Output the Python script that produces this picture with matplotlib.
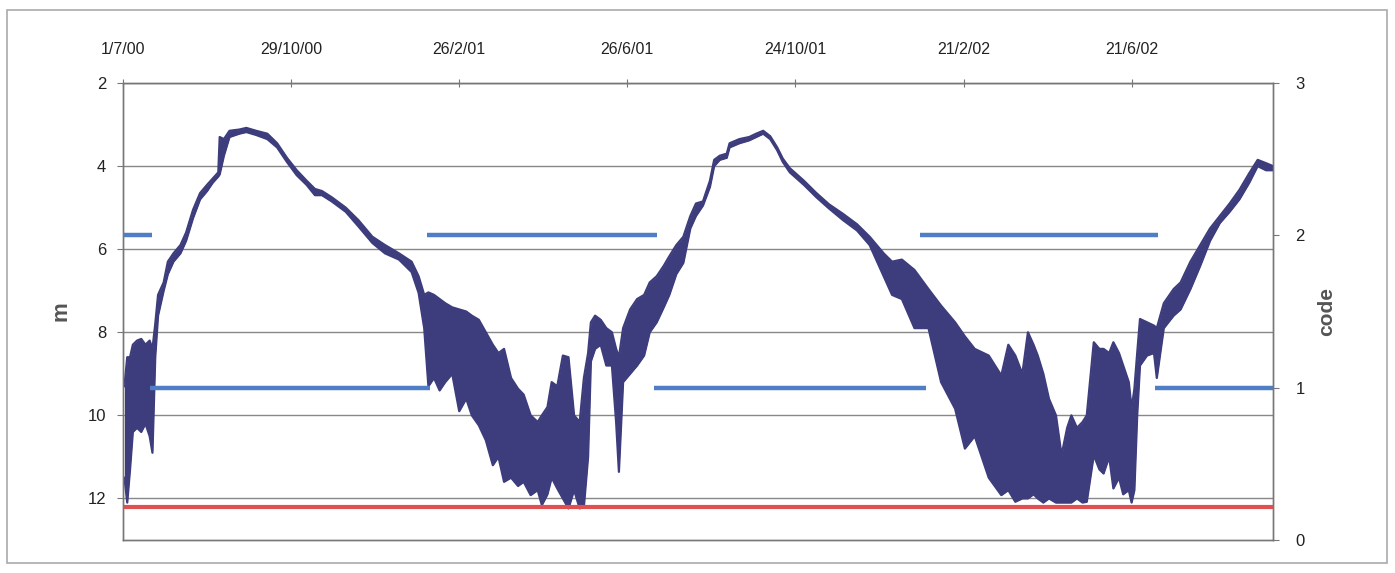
import matplotlib
matplotlib.use("Agg")
import matplotlib.pyplot as plt
from matplotlib.patches import Rectangle
import pandas as pd

plt.rcParams['font.family'] = ['Liberation Sans', 'DejaVu Sans']

# Water level (m below ground): day offset from 1/7/00,
# shallowest and deepest reading in each short period
start = pd.Timestamp('2000-07-01')
days = [1, 3, 5, 7, 10, 13, 16, 19, 21, 23, 25, 29, 32, 36, 41, 45, 50, 55, 60, 64,
        68, 69, 72, 76, 83, 88, 95, 103, 110, 117, 124, 131, 137, 142, 149, 159, 168, 178, 187, 197,
        206, 211, 215, 218, 222, 226, 230, 235, 240, 245, 249, 254, 259, 264, 268, 272, 277, 282, 286, 291,
        296, 299, 303, 306, 310, 314, 318, 322, 326, 329, 332, 334, 337, 341, 345, 349, 352, 354, 357, 362,
        367, 372, 376, 381, 386, 390, 395, 400, 405, 409, 414, 419, 422, 426, 431, 433, 440, 447, 452, 457,
        462, 467, 471, 476, 486, 495, 504, 514, 524, 533, 543, 549, 556, 565, 575, 584, 594, 601, 608, 618,
        627, 632, 637, 642, 646, 650, 653, 657, 661, 666, 670, 674, 677, 681, 685, 688, 693, 697, 700, 704,
        707, 711, 714, 718, 720, 722, 724, 726, 731, 736, 738, 743, 750, 755, 762, 769, 776, 783, 790, 797,
        804, 810, 816, 821]
level_top = [9.3, 8.6, 8.6, 8.3, 8.2, 8.16, 8.3, 8.2, 8.4, 7.8, 7.1, 6.8, 6.3, 6.1, 5.9, 5.6, 5.05, 4.65, 4.45, 4.3,
             4.15, 3.3, 3.35, 3.15, 3.12, 3.08, 3.15, 3.22, 3.45, 3.8, 4.1, 4.35, 4.55, 4.6, 4.75, 5.0, 5.3, 5.7, 5.9, 6.1,
             6.3, 6.65, 7.1, 7.04, 7.1, 7.2, 7.3, 7.4, 7.45, 7.5, 7.6, 7.7, 8.0, 8.3, 8.5, 8.4, 9.1, 9.36, 9.5, 10.0,
             10.16, 10.0, 9.8, 9.2, 9.3, 8.56, 8.6, 10.0, 10.16, 9.1, 8.5, 7.76, 7.6, 7.7, 7.9, 8.0, 8.4, 8.6, 7.9, 7.45,
             7.2, 7.1, 6.8, 6.65, 6.4, 6.17, 5.9, 5.7, 5.2, 4.9, 4.85, 4.35, 3.85, 3.75, 3.7, 3.45, 3.35, 3.3, 3.22, 3.15,
             3.28, 3.55, 3.82, 4.05, 4.35, 4.65, 4.92, 5.15, 5.4, 5.7, 6.1, 6.3, 6.25, 6.5, 6.96, 7.36, 7.76, 8.1, 8.4, 8.56,
             9.04, 8.3, 8.56, 9.0, 8.0, 8.3, 8.56, 9.0, 9.6, 10.0, 10.96, 10.3, 10.0, 10.3, 10.16, 10.0, 8.24, 8.4, 8.4, 8.5,
             8.24, 8.5, 8.8, 9.2, 9.84, 9.36, 8.5, 7.68, 7.76, 7.84, 7.9, 7.3, 6.96, 6.8, 6.3, 5.9, 5.5, 5.2, 4.9, 4.57,
             4.17, 3.85, 3.93, 4.0]
level_bottom = [11.5, 12.1, 11.3, 10.4, 10.3, 10.4, 10.2, 10.5, 10.9, 8.6, 7.6, 7.0, 6.6, 6.3, 6.1, 5.8, 5.25, 4.8, 4.6, 4.4,
                4.25, 4.2, 3.75, 3.3, 3.22, 3.18, 3.25, 3.35, 3.55, 3.9, 4.22, 4.45, 4.7, 4.7, 4.85, 5.1, 5.45, 5.85, 6.1, 6.25,
                6.55, 7.05, 7.9, 9.3, 9.1, 9.4, 9.2, 9.0, 9.9, 9.6, 10.0, 10.24, 10.6, 11.2, 11.0, 11.6, 11.5, 11.7, 11.6, 11.92,
                11.8, 12.16, 11.9, 11.5, 11.76, 12.0, 12.24, 11.8, 12.24, 12.2, 11.0, 8.7, 8.4, 8.3, 8.8, 8.8, 10.16, 11.36, 9.2, 9.0,
                8.8, 8.56, 8.0, 7.76, 7.4, 7.1, 6.6, 6.33, 5.5, 5.2, 4.95, 4.5, 4.0, 3.85, 3.8, 3.55, 3.45, 3.38, 3.3, 3.22,
                3.35, 3.62, 3.9, 4.15, 4.45, 4.75, 5.02, 5.3, 5.55, 5.9, 6.65, 7.1, 7.2, 7.9, 7.9, 9.2, 9.84, 10.8, 10.5, 11.5,
                11.92, 11.8, 12.08, 12.0, 12.0, 11.9, 12.0, 12.1, 12.0, 12.1, 12.1, 12.1, 12.1, 12.0, 12.1, 12.08, 10.96, 11.3, 11.4, 11.0,
                11.76, 11.5, 11.9, 11.8, 12.1, 11.8, 10.0, 8.8, 8.56, 8.5, 9.1, 7.9, 7.6, 7.45, 6.96, 6.4, 5.8, 5.37, 5.1, 4.8,
                4.4, 4.0, 4.1, 4.1]

# pump code periods (start day, end day, code)
code_start = [1, 19, 217, 379, 569, 737]
code_end = [21, 219, 381, 573, 739, 821]
code_value = [2, 1, 2, 1, 2, 1]

# pump intake depth (m)
intake_depth = 12.2

tick_days = [0, 120, 240, 360, 480, 600, 720]
tick_labels = ['1/7/00', '29/10/00', '26/2/01', '26/6/01', '24/10/01', '21/2/02', '21/6/02']
end_day = 821

dates = start + pd.to_timedelta(days, unit='D')
to_date = lambda d: start + pd.Timedelta(days=d)

fig = plt.figure(figsize=(13.95, 5.73), dpi=100)
ax = fig.add_axes([0.0882, 0.0576, 0.8244, 0.7975])
ax2 = ax.twinx()

navy = '#3d3c7c'
ax.fill_between(dates, level_top, level_bottom, color=navy, lw=0, zorder=3)
ax.plot(dates, level_top, color=navy, lw=1.6, zorder=3)
ax.plot(dates, level_bottom, color=navy, lw=1.6, zorder=3)
ax.hlines(intake_depth, to_date(0), to_date(end_day), color='#e05050', lw=3, zorder=4)

for s, e, c in zip(code_start, code_end, code_value):
    ax2.hlines(c, to_date(s), to_date(e), color='#4f7ec4', lw=3.2)

ax.set_ylim(13, 2)
ax.set_yticks([2, 4, 6, 8, 10, 12])
ax.yaxis.grid(True, color='#888888', lw=1)
ax.set_xlim(to_date(0), to_date(end_day))
ax.set_xticks([to_date(d) for d in tick_days])
ax.set_xticklabels(tick_labels)
ax.xaxis.tick_top()
ax2.set_ylim(0, 3)
ax2.set_yticks([0, 1, 2, 3])

for a in (ax, ax2):
    for sp in a.spines.values():
        sp.set_color('#777777')
        sp.set_linewidth(1)
    a.tick_params(labelsize=12, colors='#222222', length=4, color='#777777', pad=8)
ax.tick_params(axis='x', direction='inout', length=6, pad=16, labelsize=11.5)
ax2.tick_params(pad=12)

ax.set_ylabel('m', fontsize=16, fontweight='bold', color='#555555', labelpad=12)
ax2.set_ylabel('code', fontsize=15, fontweight='bold', color='#555555', labelpad=9)

fig.patches.append(Rectangle((7 / 1395, 10 / 573), 1380 / 1395, 553 / 573, transform=fig.transFigure,
                             fill=False, edgecolor='#aaaaaa', lw=1.2))

fig.savefig('out.png', dpi=100)
